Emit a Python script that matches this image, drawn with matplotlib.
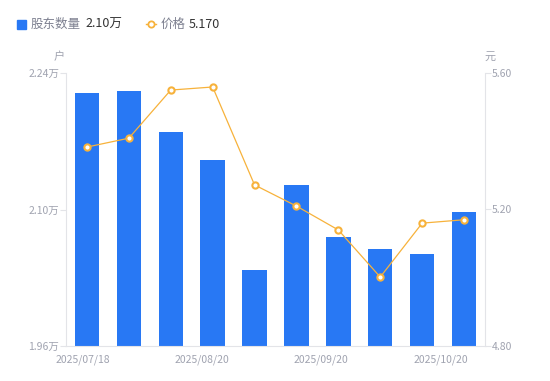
import matplotlib.pyplot as plt
import numpy as np

plt.rcParams['font.family'] = ['Noto Sans CJK SC', 'DejaVu Sans']

dates = ['2025/07/18', '2025/07/31', '2025/08/10', '2025/08/20', '2025/08/31',
         '2025/09/10', '2025/09/20', '2025/09/30', '2025/10/10', '2025/10/20']
holders = [2.220, 2.222, 2.180, 2.151, 2.038, 2.125, 2.072, 2.060, 2.054, 2.097]
price = [5.383, 5.409, 5.550, 5.559, 5.272, 5.210, 5.140, 5.002, 5.160, 5.170]
tick_labels = ['2025/07/18', '2025/08/20', '2025/09/20', '2025/10/20']

bar_color = '#2878F4'
line_color = '#F7B23B'
grey = '#A0A3B0'
axis_grey = '#E3E4E8'

fig = plt.figure(figsize=(5.5, 3.81), dpi=100)
ax = fig.add_axes([66 / 550, 1 - 346 / 381, 419 / 550, 273 / 381])
x = np.arange(len(holders))
ax.bar(x, holders, width=0.58, color=bar_color, zorder=2)
ax.set_xlim(-0.5, len(holders) - 0.5)
ax.set_ylim(1.96, 2.24)
ax.set_yticks([1.96, 2.10, 2.24])
ax.set_yticklabels(['1.96万', '2.10万', '2.24万'])

ax2 = ax.twinx()
ax2.plot(x, price, color=line_color, lw=0.9, marker='o', ms=4.5,
         mfc='white', mec=line_color, mew=1.5, zorder=3)
ax2.set_ylim(4.80, 5.60)
ax2.set_yticks([4.80, 5.20, 5.60])
ax2.set_yticklabels(['4.80', '5.20', '5.60'])

# labels are spaced evenly, not on the bar centres
ax.set_xticks([-0.1, 2.745, 5.585, 8.45])
ax.set_xticklabels(tick_labels)
ax.tick_params(axis='x', length=0, pad=6, labelsize=7.5, colors=grey)

for a in (ax, ax2):
    for s in a.spines.values():
        s.set_visible(False)
    a.tick_params(axis='y', length=4, width=0.8, color=axis_grey,
                  labelsize=7.5, labelcolor=grey, pad=1)
for s in (ax.spines['left'], ax.spines['bottom'], ax2.spines['right']):
    s.set_visible(True)
    s.set_color(axis_grey)

fig.text(59 / 550, 1 - 57 / 381, '户', fontsize=8, color=grey, ha='center', va='center')
fig.text(490 / 550, 1 - 57 / 381, '元', fontsize=8, color=grey, ha='center', va='center')

# legend
ly = 1 - 24 / 381
fig.patches.append(plt.Rectangle((17 / 550, 1 - 29 / 381), 9 / 550, 9 / 381,
                                 transform=fig.transFigure, color=bar_color))
fig.text(31 / 550, ly, '股东数量', fontsize=9, color='#7D8090', va='center')
fig.text(85 / 550, ly, '%.2f万' % holders[-1], fontsize=9, color='#333333', va='center')
fig.lines.append(plt.Line2D([146 / 550, 156 / 550], [ly, ly], transform=fig.transFigure,
                            color=line_color, lw=1))
fig.lines.append(plt.Line2D([151 / 550], [ly], transform=fig.transFigure, lw=0,
                            marker='o', ms=4.5, mfc='white', mec=line_color, mew=1.3))
fig.text(161 / 550, ly, '价格', fontsize=9, color='#7D8090', va='center')
fig.text(189 / 550, ly, '%.3f' % price[-1], fontsize=9, color='#333333', va='center')

fig.savefig('out.png', dpi=100)
